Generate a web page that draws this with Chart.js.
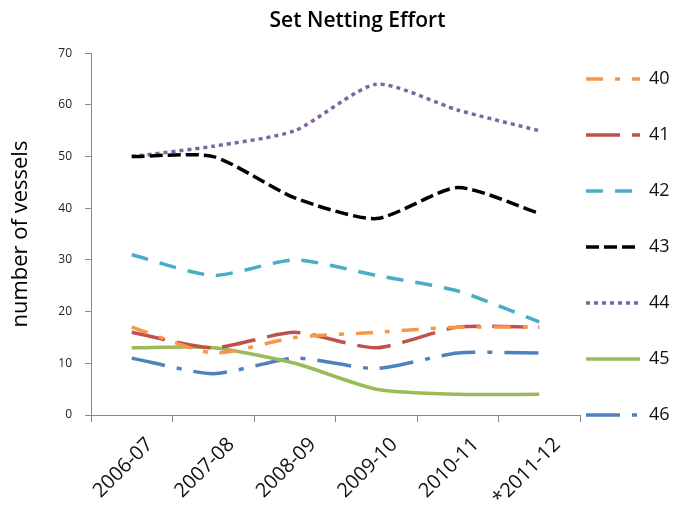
<!DOCTYPE html>
<html>
<head>
<meta charset="utf-8">
<script src="https://cdn.jsdelivr.net/npm/chart.js@4"></script>
<style>
html,body{margin:0;padding:0;background:#fff;}
#c{display:block;}
</style>
</head>
<body>
<canvas id="c" width="673" height="505"></canvas>
<script>
const categories = ['2006-07', '2007-08', '2008-09', '2009-10', '2010-11', '*2011-12'];
const seriesNames = ['40', '41', '42', '43', '44', '45', '46'];
const s40 = [17, 12, 15, 16, 17, 17];
const s41 = [16, 13, 16, 13, 17, 17];
const s42 = [31, 27, 30, 27, 24, 18];
const s43 = [50, 50, 42, 38, 44, 39];
const s44 = [50, 52, 55, 64, 59, 55];
const s45 = [13, 13, 10, 5, 4, 4];
const s46 = [11, 8, 11, 9, 12, 12];
const yTicks = [0, 10, 20, 30, 40, 50, 60, 70];

const seriesValues = [s40, s41, s42, s43, s44, s45, s46];
const colors = ['#F79646', '#C0504D', '#4BACC6', '#000000', '#8064A2', '#9BBB59', '#4F81BD'];
const dashes = [[17, 12, 5, 12], [34, 12], [17, 12], [13, 5], [4, 4], [], [34, 12, 5, 12]];

const datasets = seriesNames.map((n, i) => ({
  label: n,
  data: seriesValues[i],
  borderColor: colors[i],
  backgroundColor: colors[i],
  borderWidth: 3.5,
  borderDash: dashes[i],
  pointRadius: 0,
  pointHoverRadius: 0,
  tension: 0.22,
  fill: false
}));

const positionPlugin = {
  id: 'positionPlugin',
  afterLayout(chart) {
    const t = chart.titleBlock;
    if (t) { t.left += 21; t.right += 21; }
    const lg = chart.legend;
    if (lg) { lg.left = 548; lg.top = 32; lg.bottom = 505; lg.right = 673; }
  }
};

const FONT = '"Open Sans", Lato, sans-serif';

new Chart(document.getElementById('c'), {
  type: 'line',
  data: { labels: categories, datasets: datasets },
  plugins: [positionPlugin],
  options: {
    responsive: false,
    animation: false,
    devicePixelRatio: 1,
    layout: { padding: 0 },
    plugins: {
      tooltip: { enabled: false },
      title: {
        display: true,
        text: 'Set Netting Effort',
        color: '#000',
        font: { family: FONT, size: 21, weight: '600' },
        padding: { top: 8, bottom: 20 }
      },
      legend: {
        display: true,
        position: 'right',
        align: 'start',
        maxWidth: 93,
        labels: {
          usePointStyle: true,
          pointStyle: 'line',
          pointStyleWidth: 54,
          padding: 38,
          color: '#111',
          font: { family: FONT, size: 18 },
          generateLabels(chart) {
            const items = Chart.defaults.plugins.legend.labels.generateLabels(chart);
            items.forEach(it => {
              const ds = chart.data.datasets[it.datasetIndex];
              it.lineDash = ds.borderDash;
              it.lineWidth = ds.borderWidth;
              it.strokeStyle = ds.borderColor;
              it.lineCap = 'butt';
            });
            return items;
          }
        }
      }
    },
    scales: {
      x: {
        type: 'category',
        offset: true,
        grid: { display: true, drawOnChartArea: false, drawTicks: true, tickLength: 7, offset: true, color: '#888' },
        border: { display: true, color: '#888', width: 1 },
        ticks: { minRotation: 45, maxRotation: 45, color: '#111', padding: 11, labelOffset: 18, font: { family: FONT, size: 20 } },
        afterFit(scale) { scale.height = 90; }
      },
      y: {
        min: 0,
        max: 70,
        afterBuildTicks(scale) { scale.ticks = yTicks.map(v => ({ value: v })); },
        grid: { display: true, drawOnChartArea: false, drawTicks: true, tickLength: 6, color: '#888' },
        border: { display: true, color: '#888', width: 1 },
        ticks: { color: '#222', padding: 13, font: { family: FONT, size: 12 } },
        title: {
          display: true,
          text: 'number of vessels',
          color: '#000',
          padding: { top: 8, bottom: 0 },
          font: { family: FONT, size: 22 }
        },
        afterFit(scale) { scale.width = 91; }
      }
    }
  }
});
</script>
</body>
</html>
